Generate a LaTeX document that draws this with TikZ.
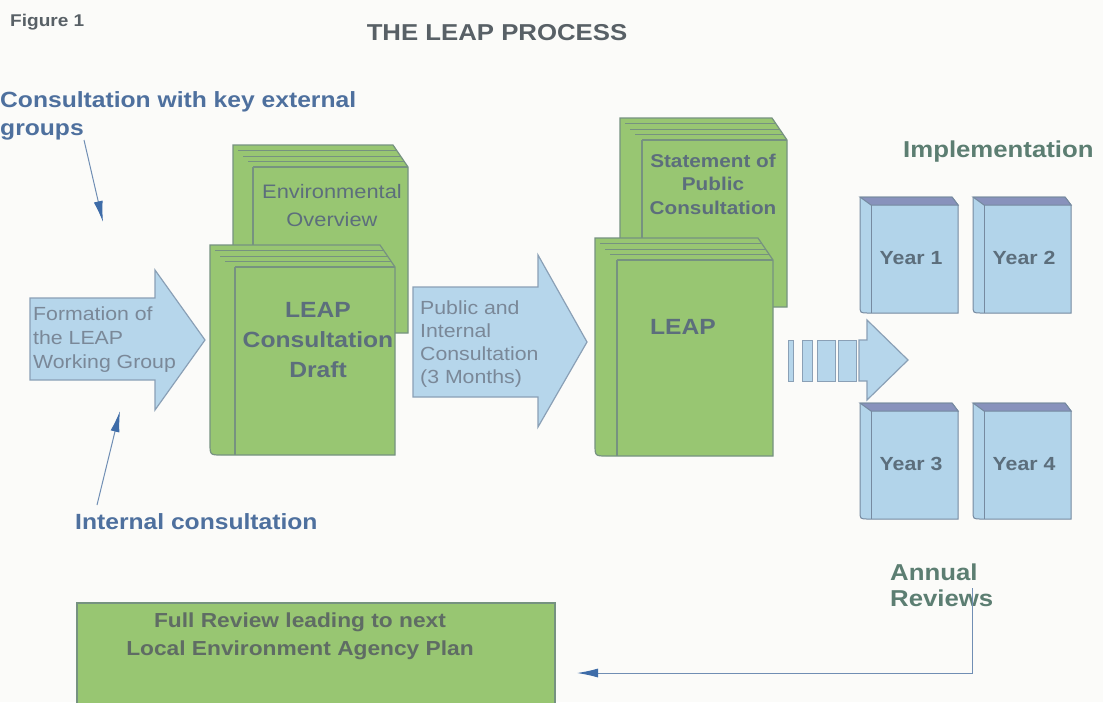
\documentclass[tikz,border=0pt]{standalone}
\usepackage{fontspec}
\setmainfont{Liberation Sans}[FakeStretch=1.12]
\usetikzlibrary{arrows.meta}

\definecolor{paper}{RGB}{251,251,249}
\definecolor{bookgreen}{RGB}{152,198,114}
\definecolor{bookedge}{RGB}{118,146,128}
\definecolor{arrowblue}{RGB}{182,214,235}
\definecolor{arrowedge}{RGB}{138,160,182}
\definecolor{bookblue}{RGB}{178,212,234}
\definecolor{blueedge}{RGB}{118,138,160}
\definecolor{bandblue}{RGB}{136,146,188}
\definecolor{connline}{RGB}{112,142,180}
\definecolor{connhead}{RGB}{62,108,168}
\definecolor{titlegray}{RGB}{88,96,102}
\definecolor{labelblue}{RGB}{78,112,158}
\definecolor{labelgreen}{RGB}{92,126,114}
\definecolor{booktext}{RGB}{92,110,124}
\definecolor{arrowtext}{RGB}{122,136,152}
\definecolor{reviewtext}{RGB}{95,108,100}

\tikzset{
  greenbook/.style={fill=bookgreen, draw=bookedge, line width=1.2pt},
  pageline/.style={draw=bookedge, line width=0.8pt},
  bluebook/.style={fill=bookblue, draw=blueedge, line width=1pt},
  blockarrow/.style={fill=arrowblue, draw=arrowedge, line width=1.2pt},
  conn/.style={draw=connline, line width=1pt, -{Latex[length=21pt, width=9pt, color=connhead]}},
  heading/.style={text=titlegray, font=\bfseries\fontsize{17}{20}\selectfont, inner sep=0pt},
  sidelabel/.style={text=labelblue, font=\bfseries\fontsize{22}{28}\selectfont, inner sep=0pt, align=left},
  greenlabel/.style={text=labelgreen, font=\bfseries\fontsize{23}{26}\selectfont, inner sep=0pt, align=left},
  booklabel/.style={text=booktext, font=\bfseries\fontsize{18.5}{23.5}\selectfont, inner sep=0pt, align=center},
  arrowlabel/.style={text=arrowtext, font=\fontsize{19}{24}\selectfont, inner sep=0pt, align=left},
}

\newcommand{\leapbook}[5]{%
  \draw [greenbook] (#1,#2) -- (#3-15,#2) -- (#3,#2+22) -- (#3,#4) -- (#1+12,#4) .. controls (#1,#4) .. (#1,#4-12) -- cycle;
  \foreach \k in {1,2,3}
    \draw [pageline] (#1+\k*5,#2+\k*5.5) -- (#3-15+\k*3.75,#2+\k*5.5);
  \draw [greenbook, fill=none] (#5,#2+22) -- (#3,#2+22);
  \draw [greenbook, fill=none] (#5,#2+22) -- (#5,#4);
}

\newcommand{\yearbook}[4]{%
  \draw [bluebook] (#1,#2) -- (#3-6,#2) -- (#3,#2+8) -- (#3,#4) -- (#1+8,#4) .. controls (#1,#4) .. (#1,#4-8) -- cycle;
  \draw [bluebook, fill=bandblue] (#1,#2) -- (#3-6,#2) -- (#3,#2+8) -- (#1+11,#2+8) -- cycle;
  \draw [bluebook, fill=none] (#1+11,#2+8) -- (#1+11,#4);
}

\begin{document}
\begin{tikzpicture}[x=1pt, y=-1pt]
    \fill [paper] (0,0) rectangle (1103,702);
    \useasboundingbox (0,0) rectangle (1103,702);

    \node [heading, anchor=west] (fig) at (10,22) {Figure 1};
    \node [heading, font=\bfseries\fontsize{23}{28}\selectfont] (title) at (497,33) {THE LEAP PROCESS};

    \node [sidelabel, anchor=west] (external) at (0,116) {Consultation with key external\\groups};
    \node [sidelabel, anchor=west] (internal) at (75,522) {Internal consultation};
    \node [greenlabel, anchor=west] (implement) at (903,152) {Implementation};
    \node [greenlabel, anchor=west] (annual) at (890,585) {Annual\\Reviews};

    \leapbook{233}{145}{408}{333}{253}
    \leapbook{620}{118}{787}{307}{642}
    \node [booklabel, font=\fontsize{19.5}{28}\selectfont] (overview) at (332,206) {Environmental\\Overview};
    \node [booklabel] (statement) at (713,184) {Statement of\\Public\\Consultation};

    \draw [blockarrow] (30,298) -- (155,298) -- (155,270) -- (205,340) -- (155,410) -- (155,380) -- (30,380) -- cycle;
    \node [arrowlabel, anchor=west] (formation) at (33,340) {Formation of\\the LEAP\\Working Group};
    \draw [blockarrow] (413,287) -- (538,287) -- (538,255) -- (587,342) -- (538,427) -- (538,397) -- (413,397) -- cycle;
    \node [arrowlabel, font=\fontsize{19}{23}\selectfont, anchor=west] (public) at (420,344) {Public and\\Internal\\Consultation\\(3 Months)};

    \leapbook{210}{245}{395}{455}{235}
    \leapbook{595}{238}{773}{456}{617}
    \node [booklabel, font=\bfseries\fontsize{22}{30}\selectfont] (draft) at (318,340) {LEAP\\Consultation\\Draft};
    \node [booklabel, font=\bfseries\fontsize{22}{30}\selectfont] (leap) at (683,327) {LEAP};

    \foreach \a/\b in {788/793, 802/812, 817/835, 838/856}
        \draw [blockarrow, line width=1pt] (\a,340) rectangle (\b,381);
    \draw [blockarrow] (859,340) -- (867,340) -- (867,320) -- (908,360) -- (867,400) -- (867,381) -- (859,381) -- cycle;

    \foreach \n/\l/\t in {1/860/197, 2/973/197, 3/860/403, 4/973/403} {
        \yearbook{\l}{\t}{\l+98}{\t+116}
        \node [booklabel, font=\bfseries\fontsize{19}{23}\selectfont] (year\n) at (\l+51,\t+61) {Year \n};
    }

    \draw [greenbook] (77,603) rectangle (555,706);
    \node [booklabel, text=reviewtext, font=\bfseries\fontsize{20.3}{28}\selectfont] (review) at (300,636) {Full Review leading to next\\Local Environment Agency Plan};

    \coordinate (groupsend) at (84,140);
    \coordinate (formtop) at (103,222);
    \coordinate (internalstart) at (97,505);
    \coordinate (formbottom) at (120,411);
    \coordinate (annualout) at (972,588);
    \coordinate (reviewin) at (577,673);
    \draw [conn] (groupsend) -- (formtop);
    \draw [conn] (internalstart) -- (formbottom);
    \draw [conn] (annualout) |- (reviewin);
\end{tikzpicture}
\end{document}
